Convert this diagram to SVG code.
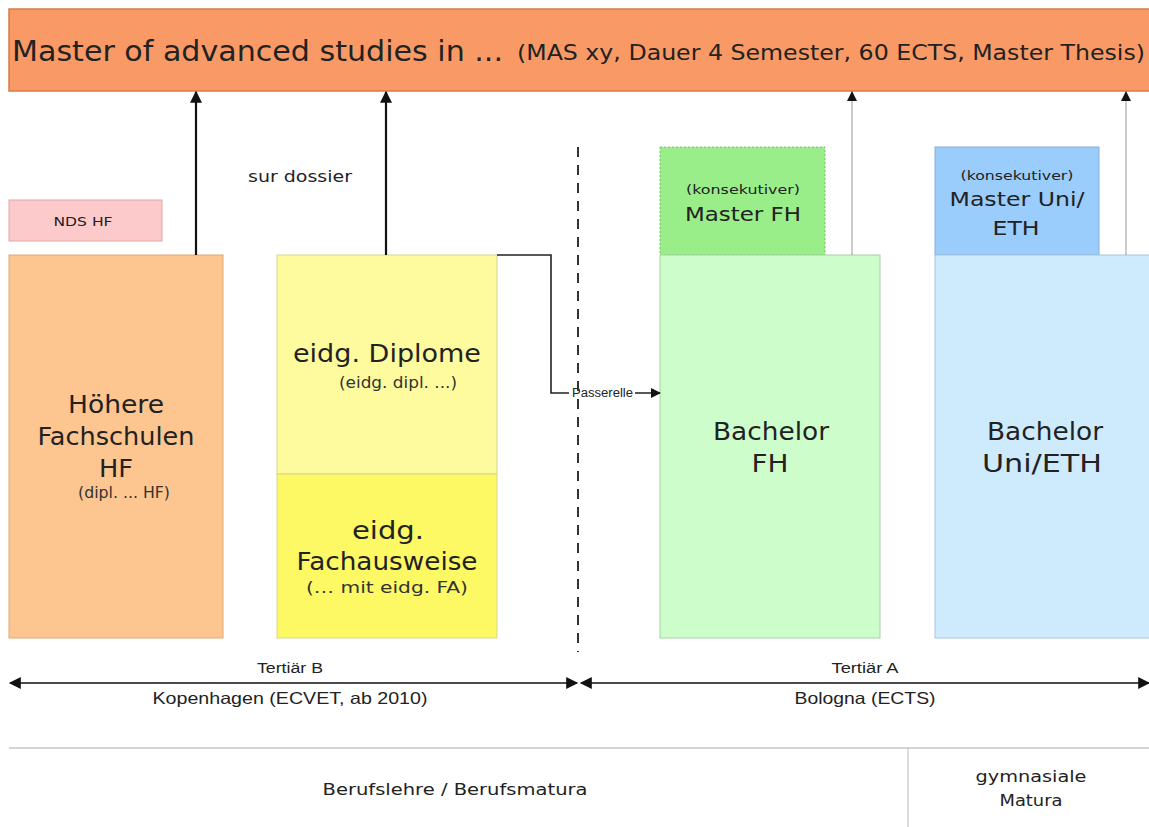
<svg xmlns="http://www.w3.org/2000/svg" width="1149" height="827" viewBox="0 0 1149 827">
  <style>
    text { lengthAdjust: spacingAndGlyphs; }
    .v { font-family: "DejaVu Sans", Verdana, sans-serif; fill: #222; }
    .a { font-family: "Liberation Sans", Arial, sans-serif; fill: #222; }
    .c { text-anchor: middle; }
    .big { font-size: 24px; }
    .sub { font-size: 15px; fill: #333; }
    .thick { stroke: #111; stroke-width: 2.2; fill: none; }
    .thin { stroke: #999; stroke-width: 1; fill: none; }
  </style>
  <defs>
    <marker id="ah" viewBox="0 0 10 10" refX="9" refY="5" markerWidth="12" markerHeight="14" markerUnits="userSpaceOnUse" orient="auto">
      <path d="M0,0 L10,5 L0,10 z" fill="#111"/>
    </marker>
    <marker id="ahs" viewBox="0 0 10 10" refX="9" refY="5" markerWidth="10" markerHeight="12" markerUnits="userSpaceOnUse" orient="auto">
      <path d="M0,0 L10,5 L0,10 z" fill="#111"/>
    </marker>
    <marker id="ahr" viewBox="0 0 10 10" refX="9" refY="5" markerWidth="14" markerHeight="12" markerUnits="userSpaceOnUse" orient="auto-start-reverse">
      <path d="M0,0 L10,5 L0,10 z" fill="#111"/>
    </marker>
  </defs>

  <rect width="1149" height="827" fill="#fff"/>

  <!-- MAS banner -->
  <g id="mas">
    <rect x="9" y="9" width="1145" height="82" fill="#F99A66" stroke="#D8794A" stroke-width="1.5"/>
    <text x="12" y="61" class="v" font-size="28" textLength="491" lengthAdjust="spacingAndGlyphs">Master of advanced studies in ...</text>
    <text x="517" y="60" class="v" font-size="20.5" textLength="628" lengthAdjust="spacingAndGlyphs">(MAS xy, Dauer 4 Semester, 60 ECTS, Master Thesis)</text>
  </g>

  <!-- NDS HF -->
  <g id="nds-hf">
    <rect x="9" y="200" width="153" height="41" fill="#FCCACA" stroke="#E2A8A8"/>
    <text x="83" y="226" class="v c" font-size="13" textLength="59" lengthAdjust="spacingAndGlyphs">NDS HF</text>
  </g>

  <!-- Höhere Fachschulen -->
  <g id="hf">
    <rect x="9" y="255" width="214" height="383" fill="#FDC590" stroke="#E0A878"/>
    <text x="116" y="413" class="v c big" textLength="96" lengthAdjust="spacingAndGlyphs">Höhere</text>
    <text x="116" y="445" class="v c big" textLength="157" lengthAdjust="spacingAndGlyphs">Fachschulen</text>
    <text x="116" y="477" class="v c big" textLength="34" lengthAdjust="spacingAndGlyphs">HF</text>
    <text x="124" y="498" class="v c sub" textLength="92" lengthAdjust="spacingAndGlyphs">(dipl. ... HF)</text>
  </g>

  <!-- eidg. Diplome -->
  <g id="diplome">
    <rect x="277" y="255" width="220" height="219" fill="#FDFB9E" stroke="#D8D690"/>
    <text x="387" y="362" class="v c big" textLength="188" lengthAdjust="spacingAndGlyphs">eidg. Diplome</text>
    <text x="398" y="388" class="v c sub" textLength="118" lengthAdjust="spacingAndGlyphs">(eidg. dipl. ...)</text>
  </g>

  <!-- eidg. Fachausweise -->
  <g id="fachausweise">
    <rect x="277" y="474" width="220" height="164" fill="#FDF964" stroke="#D8D690"/>
    <text x="388" y="539" class="v c big" textLength="72" lengthAdjust="spacingAndGlyphs">eidg.</text>
    <text x="387" y="570" class="v c big" textLength="181" lengthAdjust="spacingAndGlyphs">Fachausweise</text>
    <text x="387" y="593" class="v c sub" textLength="162" lengthAdjust="spacingAndGlyphs">(… mit eidg. FA)</text>
  </g>

  <!-- Master FH -->
  <g id="master-fh">
    <rect x="660" y="147" width="165" height="108" fill="#9AEE8A" stroke="#7CC070" stroke-dasharray="2 2"/>
    <text x="743" y="194" class="v c" font-size="13" textLength="114" lengthAdjust="spacingAndGlyphs">(konsekutiver)</text>
    <text x="743" y="221" class="v c" font-size="20" textLength="116" lengthAdjust="spacingAndGlyphs">Master FH</text>
  </g>

  <!-- Bachelor FH -->
  <g id="bachelor-fh">
    <rect x="660" y="255" width="220" height="383" fill="#CDFDCB" stroke="#A8D0A6"/>
    <text x="771" y="440" class="v c big" textLength="116" lengthAdjust="spacingAndGlyphs">Bachelor</text>
    <text x="770" y="472" class="v c big" textLength="37" lengthAdjust="spacingAndGlyphs">FH</text>
  </g>

  <!-- Master Uni/ETH -->
  <g id="master-uni">
    <rect x="935" y="147" width="164" height="108" fill="#9ACCFC" stroke="#82B0DC"/>
    <text x="1017" y="180" class="v c" font-size="13" textLength="113" lengthAdjust="spacingAndGlyphs">(konsekutiver)</text>
    <text x="1017" y="206" class="v c" font-size="20" textLength="135" lengthAdjust="spacingAndGlyphs">Master Uni/</text>
    <text x="1016" y="235" class="v c" font-size="20" textLength="47" lengthAdjust="spacingAndGlyphs">ETH</text>
  </g>

  <!-- Bachelor Uni/ETH -->
  <g id="bachelor-uni">
    <rect x="935" y="255" width="220" height="383" fill="#CDEBFD" stroke="#A8C6DA"/>
    <text x="1045" y="440" class="v c big" textLength="116" lengthAdjust="spacingAndGlyphs">Bachelor</text>
    <text x="1042" y="472" class="v c big" textLength="120" lengthAdjust="spacingAndGlyphs">Uni/ETH</text>
  </g>

  <!-- connectors -->
  <g id="connectors">
    <line x1="196" y1="255" x2="196" y2="92" class="thick" marker-end="url(#ah)"/>
    <line x1="386" y1="255" x2="386" y2="92" class="thick" marker-end="url(#ah)"/>
    <line x1="852" y1="255" x2="852" y2="92" class="thin" marker-end="url(#ahs)"/>
    <line x1="1126" y1="255" x2="1126" y2="92" class="thin" marker-end="url(#ahs)"/>
    <text x="248" y="182" class="v" font-size="16" fill="#333" textLength="104" lengthAdjust="spacingAndGlyphs">sur dossier</text>

    <!-- Passerelle -->
    <polyline points="497,255 551,255 551,393 660,393" fill="none" stroke="#222" stroke-width="1.6" marker-end="url(#ahs)"/>
    <rect x="569" y="385" width="66" height="15" fill="#fff"/>
    <text x="572" y="397" class="a" font-size="12" fill="#333" textLength="61" lengthAdjust="spacingAndGlyphs">Passerelle</text>

    <!-- Tertiär B / A separator -->
    <line x1="578" y1="147" x2="578" y2="652" stroke="#333" stroke-width="2" stroke-dasharray="10 8"/>

    <line x1="10" y1="683" x2="577" y2="683" stroke="#111" stroke-width="1.6" marker-start="url(#ahr)" marker-end="url(#ahr)"/>
    <text x="290" y="673" class="a c" font-size="15.5" textLength="66" lengthAdjust="spacingAndGlyphs">Tertiär B</text>
    <text x="290" y="704" class="a c" font-size="16.5" textLength="275" lengthAdjust="spacingAndGlyphs">Kopenhagen (ECVET, ab 2010)</text>

    <line x1="581" y1="683" x2="1149" y2="683" stroke="#111" stroke-width="1.6" marker-start="url(#ahr)" marker-end="url(#ahr)"/>
    <text x="865" y="673" class="a c" font-size="15.5" textLength="67" lengthAdjust="spacingAndGlyphs">Tertiär A</text>
    <text x="865" y="704" class="a c" font-size="16.5" textLength="141" lengthAdjust="spacingAndGlyphs">Bologna (ECTS)</text>
  </g>

  <!-- base level -->
  <g id="base">
    <line x1="9" y1="748" x2="1149" y2="748" stroke="#D4D4D4" stroke-width="2"/>
    <line x1="908" y1="748" x2="908" y2="827" stroke="#BBBBBB" stroke-width="1"/>
    <text x="455" y="795" class="v c" font-size="16.5" textLength="265" lengthAdjust="spacingAndGlyphs">Berufslehre / Berufsmatura</text>
    <text x="1031" y="782" class="v c" font-size="16.5" textLength="111" lengthAdjust="spacingAndGlyphs">gymnasiale</text>
    <text x="1031" y="806" class="v c" font-size="16.5" textLength="63" lengthAdjust="spacingAndGlyphs">Matura</text>
  </g>
</svg>
